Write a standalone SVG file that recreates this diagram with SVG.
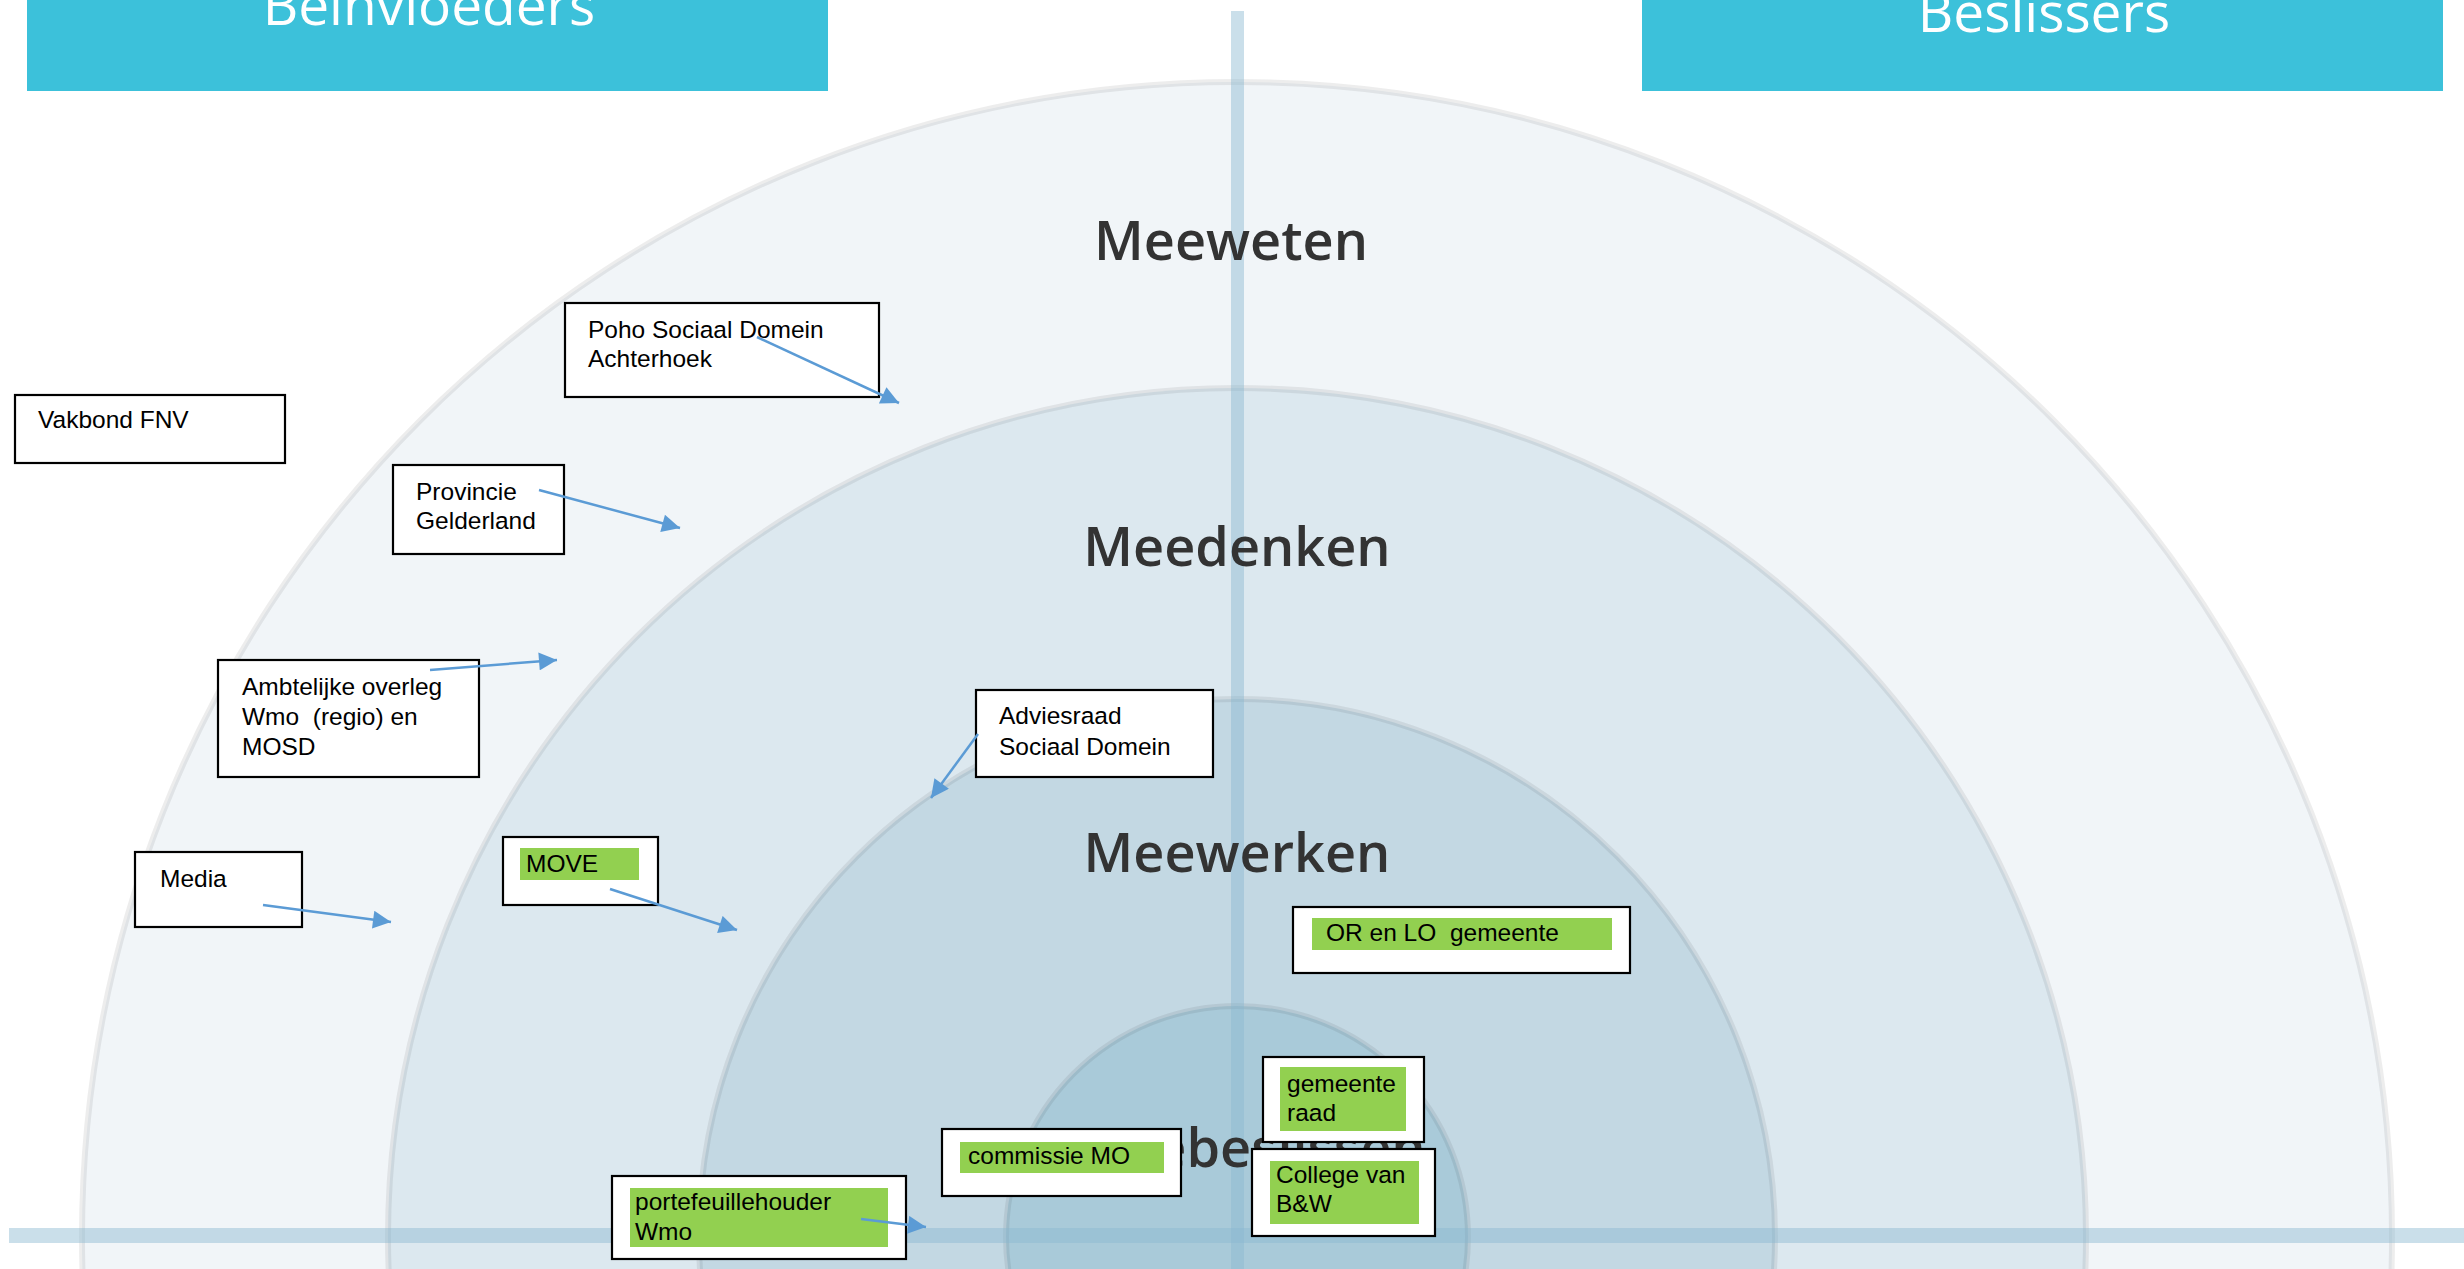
<svg xmlns="http://www.w3.org/2000/svg" width="2464" height="1269" viewBox="0 0 2464 1269">
<style>
.hdr{fill:#3cc1da}
.hdrt{font-family:"Open Sans",sans-serif;font-size:55px;fill:#ffffff;text-anchor:middle}
.ring{stroke:#000;stroke-opacity:0.07;stroke-width:6}
.lbl{font-family:"Open Sans",sans-serif;font-weight:600;font-size:54px;fill:#333333;text-anchor:middle}
.box{fill:#ffffff;stroke:#000000;stroke-width:2.2}
.hl{fill:#92d050}
.t{font-family:"Liberation Sans",Arial,sans-serif;font-size:24.5px;fill:#000000}
.con{stroke:#5b9bd5;stroke-width:2.5;fill:none;marker-end:url(#ah)}
.axis{fill:#8ab9d0;fill-opacity:0.45}
</style>
<defs>
<marker id="ah" viewBox="0 0 10 10" refX="10" refY="5" markerWidth="22" markerHeight="18" markerUnits="userSpaceOnUse" orient="auto">
<path d="M0,0 L10,5 L0,10 z" fill="#5b9bd5"/>
</marker>
</defs>
<rect width="2464" height="1269" fill="#ffffff"/>
<g id="rings">
<circle class="ring" cx="1237" cy="1237" r="1155" fill="#f1f5f8"/>
<circle class="ring" cx="1237" cy="1237" r="849" fill="#dce8ef"/>
<circle class="ring" cx="1237" cy="1237" r="538" fill="#c3d8e3"/>
<circle class="ring" cx="1237" cy="1237" r="231" fill="#a9cad9"/>
</g>
<g id="axes">
<rect class="axis" x="1231" y="11" width="13" height="1258"/>
<rect class="axis" x="9" y="1228" width="2455" height="15"/>
</g>
<g id="headers">
<g id="hdr-left"><rect class="hdr" x="27" y="0" width="801" height="91"/><text class="hdrt" x="429" y="25">Beïnvloeders</text></g>
<g id="hdr-right"><rect class="hdr" x="1642" y="0" width="801" height="91"/><text class="hdrt" x="2044" y="32">Beslissers</text></g>
</g>
<g id="ring-labels">
<text class="lbl" x="1231" y="260">Meeweten</text>
<text class="lbl" x="1237" y="566">Meedenken</text>
<text class="lbl" x="1237" y="872">Meewerken</text>
<text class="lbl" x="1250" y="1167">Meebeslissen</text>
</g>
<g id="n-poho"><rect class="box" x="565" y="303" width="314" height="94"/><text class="t" x="588" y="338">Poho Sociaal Domein</text><text class="t" x="588" y="367">Achterhoek</text></g>
<g id="n-vakbond"><rect class="box" x="15" y="395" width="270" height="68"/><text class="t" x="38" y="428">Vakbond FNV</text></g>
<g id="n-provincie"><rect class="box" x="393" y="465" width="171" height="89"/><text class="t" x="416" y="500">Provincie</text><text class="t" x="416" y="529">Gelderland</text></g>
<g id="n-ambtelijk"><rect class="box" x="218" y="660" width="261" height="117"/><text class="t" x="242" y="695">Ambtelijke overleg</text><text class="t" x="242" y="725" xml:space="preserve">Wmo  (regio) en</text><text class="t" x="242" y="755">MOSD</text></g>
<g id="n-media"><rect class="box" x="135" y="852" width="167" height="75"/><text class="t" x="160" y="887">Media</text></g>
<g id="n-move"><rect class="box" x="503" y="837" width="155" height="68"/><rect class="hl" x="520" y="848" width="119" height="32"/><text class="t" x="526" y="872">MOVE</text></g>
<g id="n-advies"><rect class="box" x="976" y="690" width="237" height="87"/><text class="t" x="999" y="724">Adviesraad</text><text class="t" x="999" y="755">Sociaal Domein</text></g>
<g id="n-or"><rect class="box" x="1293" y="907" width="337" height="66"/><rect class="hl" x="1312" y="918" width="300" height="32"/><text class="t" x="1326" y="941" xml:space="preserve">OR en LO  gemeente</text></g>
<g id="n-raad"><rect class="box" x="1263" y="1057" width="161" height="85"/><rect class="hl" x="1280" y="1067" width="126" height="64"/><text class="t" x="1287" y="1092">gemeente</text><text class="t" x="1287" y="1121">raad</text></g>
<g id="n-commissie"><rect class="box" x="942" y="1129" width="239" height="67"/><rect class="hl" x="960" y="1142" width="204" height="31"/><text class="t" x="968" y="1164">commissie MO</text></g>
<g id="n-college"><rect class="box" x="1252" y="1149" width="183" height="87"/><rect class="hl" x="1270" y="1161" width="149" height="63"/><text class="t" x="1276" y="1183">College van</text><text class="t" x="1276" y="1212">B&amp;W</text></g>
<g id="n-portefeuille"><rect class="box" x="612" y="1176" width="294" height="83"/><rect class="hl" x="630" y="1188" width="258" height="59"/><text class="t" x="635" y="1210">portefeuillehouder</text><text class="t" x="635" y="1240">Wmo</text></g>
<g id="connectors">
<line class="con" x1="757" y1="337" x2="899" y2="403"/>
<line class="con" x1="539" y1="490" x2="680" y2="528"/>
<line class="con" x1="430" y1="670" x2="557" y2="660"/>
<line class="con" x1="263" y1="905" x2="391" y2="922"/>
<line class="con" x1="610" y1="889" x2="737" y2="930"/>
<line class="con" x1="978" y1="734" x2="931" y2="798"/>
<line class="con" x1="861" y1="1219" x2="926" y2="1227"/>
</g>
</svg>
